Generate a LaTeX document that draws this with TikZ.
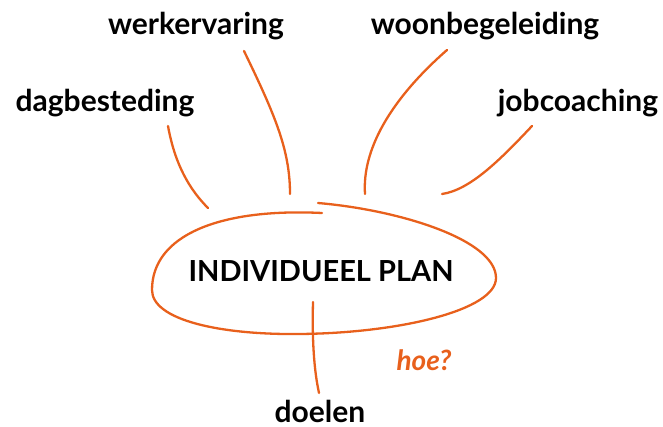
\documentclass[tikz,border=0pt]{standalone}
\usepackage{fontspec}
\setmainfont{Lato}
\definecolor{oranje}{HTML}{E8601C}
\begin{document}
\begin{tikzpicture}[x=1pt,y=-1pt,
	lijn/.style={draw=oranje,line width=2.3pt,line cap=round},
	woord/.style={font=\fontsize{30}{34}\selectfont\bfseries,inner sep=0pt,anchor=base}]
	\useasboundingbox (0,0) rectangle (663,427);
	% labels
	\node[woord] (werk) at (196,35) {werkervaring};
	\node[woord] (woon) at (485,35) {woonbegeleiding};
	\node[woord] (dag) at (105,112) {dagbesteding};
	\node[woord] (job) at (578,112) {jobcoaching};
	\node[woord] (doel) at (320,422) {doelen};
	\node[inner sep=0pt,anchor=base,font=\fontsize{29}{32}\selectfont\bfseries] (plan) at (321,282) {INDIVIDUEEL PLAN};
	\node[inner sep=0pt,anchor=base,text=oranje,font=\fontsize{28}{32}\selectfont\bfseries\itshape] (hoe) at (424,370) {hoe?};
	% ends of the strokes
	\coordinate (werk1) at (244,51); \coordinate (werk2) at (290,194);
	\coordinate (woon1) at (447,50); \coordinate (woon2) at (365,194);
	\coordinate (dag1) at (168,126); \coordinate (dag2) at (208,208);
	\coordinate (job1) at (532,126); \coordinate (job2) at (442,194);
	\coordinate (doel1) at (313,302); \coordinate (doel2) at (319,393);
	\draw[lijn] (werk1) .. controls (275,115) and (290,150) .. (werk2);
	\draw[lijn] (woon1) .. controls (390,100) and (362,150) .. (woon2);
	\draw[lijn] (dag1) .. controls (175,165) and (190,190) .. (dag2);
	\draw[lijn] (job1) .. controls (500,160) and (470,190) .. (job2);
	\draw[lijn] (doel1) .. controls (312,340) and (314,370) .. (doel2);
	% the loop round the plan
	\coordinate (lus1) at (322,213); \coordinate (lus2) at (318,203);
	\draw[lijn] (lus1) .. controls (220,208) and (152,235) .. (152,290)
		.. controls (152,320) and (220,335) .. (300,334)
		.. controls (400,333) and (496,310) .. (496,278)
		.. controls (496,240) and (400,210) .. (lus2);
\end{tikzpicture}
\end{document}
